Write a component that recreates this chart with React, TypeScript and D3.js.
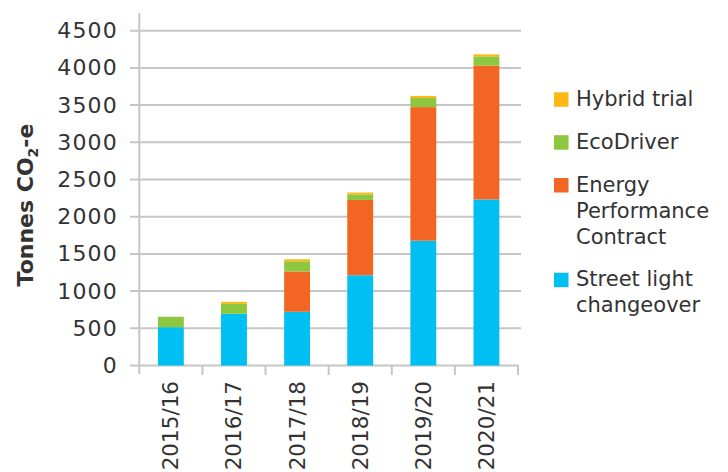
import React from "react";
import * as d3 from "d3";

// Financial years on the x axis
const years = ["2015/16", "2016/17", "2017/18", "2018/19", "2019/20", "2020/21"];

// Emission savings per initiative, tonnes CO2-e
const streetLight = [515, 695, 722, 1213, 1677, 2232];
const energyPerformance = [0, 0, 542, 1012, 1796, 1799];
const ecoDriver = [140, 133, 136, 75, 123, 124];
const hybridTrial = [0, 27, 28, 25, 27, 27];

const yTicks = [0, 500, 1000, 1500, 2000, 2500, 3000, 3500, 4000, 4500];

const seriesKeys = ["street", "epc", "eco", "hybrid"];
const seriesColors: Record<string, string> = {
  street: "#00C0F3",
  epc: "#F36523",
  eco: "#8DC63F",
  hybrid: "#FDB913",
};

// Legend, top to bottom (each label may wrap onto several lines)
const legendItems = [
  { key: "hybrid", lines: ["Hybrid trial"] },
  { key: "eco", lines: ["EcoDriver"] },
  { key: "epc", lines: ["Energy", "Performance", "Contract"] },
  { key: "street", lines: ["Street light", "changeover"] },
];

const W = 728;
const H = 472;
const axisX = 139.3;
const plotRight = 518;
const gridRight = 521;
const tickLeft = 130;
const axisColor = "#c6c6c6";
const textColor = "#333333";
const font = "'DejaVu Sans', Verdana, sans-serif";

export default function App() {
  const rows = years.map((y, i) => ({
    year: y,
    street: streetLight[i],
    epc: energyPerformance[i],
    eco: ecoDriver[i],
    hybrid: hybridTrial[i],
  }));

  const stacked = d3.stack<any>().keys(seriesKeys)(rows);

  const x = d3.scaleBand<string>().domain(years).range([axisX, plotRight]).padding(0);
  const y = d3.scaleLinear().domain([0, 4500]).range([365.5, 30.7]);
  const barW = x.step() * 0.41;

  const legendSquare = 14.5;
  const legendTops = [92.3, 135.2, 178, 272.7];
  const lineGap = 26;

  return (
    <div style={{ position: "absolute", left: 0, top: 0 }}>
      <svg width={W} height={H} viewBox={`0 0 ${W} ${H}`} style={{ display: "block", background: "#fff" }}>
        {/* horizontal gridlines with left tick stubs */}
        {yTicks.map((t) => (
          <line
            key={"g" + t}
            x1={tickLeft}
            x2={t === 0 ? plotRight : gridRight}
            y1={y(t)}
            y2={y(t)}
            stroke={axisColor}
            strokeWidth={2}
          />
        ))}

        {/* stacked bars */}
        {stacked.map((layer) =>
          layer.map((d, i) => {
            const h = y(d[0]) - y(d[1]);
            if (h <= 0) return null;
            return (
              <rect
                key={layer.key + i}
                x={(x(years[i]) as number) + (x.bandwidth() - barW) / 2}
                y={y(d[1])}
                width={barW}
                height={h}
                fill={seriesColors[layer.key]}
              />
            );
          })
        )}

        {/* y axis line */}
        <line x1={axisX} x2={axisX} y1={13} y2={374} stroke={axisColor} strokeWidth={2} />

        {/* x axis category boundary ticks */}
        {years.map((yr, i) => (
          <line
            key={"xt" + i}
            x1={(x(yr) as number) + x.step()}
            x2={(x(yr) as number) + x.step()}
            y1={365}
            y2={375}
            stroke={axisColor}
            strokeWidth={2}
          />
        ))}

        {/* y tick labels */}
        {yTicks.map((t) => (
          <text
            key={"yl" + t}
            x={118}
            y={y(t)}
            textAnchor="end"
            dominantBaseline="central"
            fontFamily={font}
            fontSize={22}
            letterSpacing={1.2}
            fill={textColor}
          >
            {t}
          </text>
        ))}

        {/* x tick labels */}
        {years.map((yr) => {
          const cx = (x(yr) as number) + x.bandwidth() / 2;
          return (
            <text
              key={"xl" + yr}
              transform={`translate(${cx},381) rotate(-90)`}
              textAnchor="end"
              dominantBaseline="central"
              fontFamily={font}
              fontSize={21.5}
              fill={textColor}
            >
              {yr}
            </text>
          );
        })}

        {/* y axis title */}
        <text
          transform="translate(33,205) rotate(-90)"
          textAnchor="middle"
          fontFamily={font}
          fontWeight="bold"
          fontSize={22}
          fill={textColor}
        >
          Tonnes CO
          <tspan dy={5} fontSize={14}>2</tspan>
          <tspan dy={-5}>-e</tspan>
        </text>

        {/* legend */}
        {legendItems.map((item, i) => {
          const top = legendTops[i];
          return (
            <g key={"lg" + item.key}>
              <rect x={554} y={top} width={legendSquare} height={legendSquare} fill={seriesColors[item.key]} />
              {item.lines.map((ln, j) => (
                <text
                  key={j}
                  x={576}
                  y={top + 13.5 + j * lineGap}
                  fontFamily={font}
                  fontSize={21}
                  fill={textColor}
                >
                  {ln}
                </text>
              ))}
            </g>
          );
        })}
      </svg>
    </div>
  );
}
